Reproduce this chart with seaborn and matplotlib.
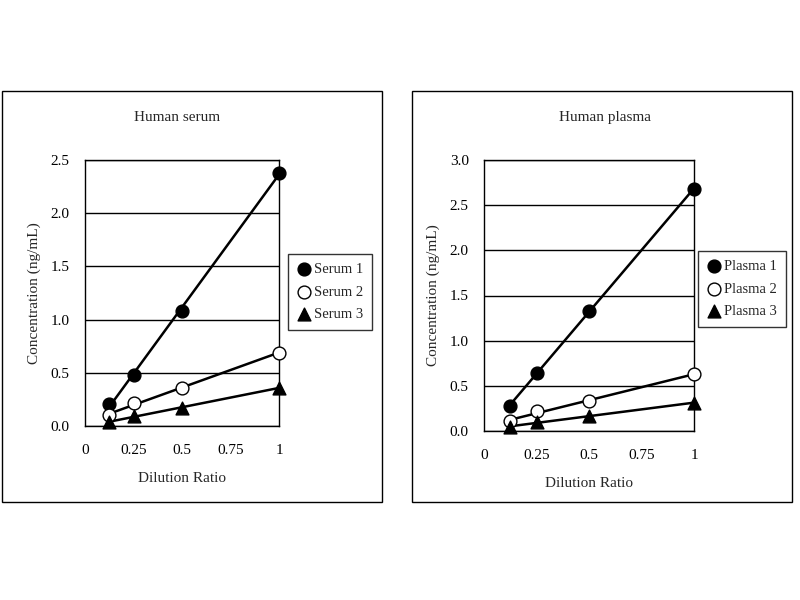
import numpy as np
import matplotlib
matplotlib.use("Agg")
import matplotlib.pyplot as plt
import seaborn as sns
from matplotlib.patches import Rectangle

# -------------------------------------------------------------------
# Data
# -------------------------------------------------------------------
dilution = [0.125, 0.25, 0.5, 1.0]

serum_labels = ["Serum 1", "Serum 2", "Serum 3"]
serum_1 = [0.21, 0.48, 1.08, 2.38]
serum_2 = [0.10, 0.22, 0.355, 0.69]
serum_3 = [0.04, 0.09, 0.17, 0.36]

plasma_labels = ["Plasma 1", "Plasma 2", "Plasma 3"]
plasma_1 = [0.28, 0.64, 1.33, 2.68]
plasma_2 = [0.11, 0.22, 0.33, 0.63]
plasma_3 = [0.04, 0.10, 0.17, 0.31]

x_ticks = [0, 0.25, 0.5, 0.75, 1]
x_ticklabels = ["0", "0.25", "0.5", "0.75", "1"]

sns.set_style("white")
plt.rcParams["font.family"] = ["Liberation Serif", "DejaVu Serif"]
plt.rcParams["font.size"] = 11

# marker styles: filled circle, open circle, filled triangle
styles = [
    dict(marker="o", color="black", edgecolor="black"),
    dict(marker="o", color="white", edgecolor="black"),
    dict(marker="^", color="black", edgecolor="black"),
]

fig = plt.figure(figsize=(8, 6), dpi=100)

# panel frames
fig.patches.append(Rectangle((2 / 800, 1 - 502 / 600), 380 / 800, 411 / 600,
                             transform=fig.transFigure, fill=False,
                             edgecolor="black", linewidth=1))
fig.patches.append(Rectangle((412 / 800, 1 - 502 / 600), 380 / 800, 411 / 600,
                             transform=fig.transFigure, fill=False,
                             edgecolor="black", linewidth=1))


def draw_panel(rect, series, labels, ymax, title, title_x, legend_box):
    ax = fig.add_axes(rect)
    for ys, lab, st in zip(series, labels, styles):
        sns.regplot(x=dilution, y=ys, ax=ax, scatter=False, ci=None,
                    truncate=True, color="black",
                    line_kws=dict(linewidth=1.8, zorder=2))
        sns.scatterplot(x=dilution, y=ys, ax=ax, s=85, linewidth=1,
                        label=lab, clip_on=False, zorder=3, **st)
    ax.set_xlim(0, 1)
    ax.set_ylim(0, ymax)
    ax.set_yticks(np.arange(0, ymax + 0.01, 0.5))
    ax.set_yticklabels([f"{v:.1f}" for v in np.arange(0, ymax + 0.01, 0.5)])
    ax.set_xticks(x_ticks)
    ax.set_xticklabels(x_ticklabels)
    ax.yaxis.grid(True, color="black", linewidth=1)
    ax.set_axisbelow(True)
    for sp in ax.spines.values():
        sp.set_color("black")
        sp.set_linewidth(1)
    ax.tick_params(axis="x", direction="in", length=4, width=1, pad=13,
                   colors="black", labelsize=11)
    ax.tick_params(axis="y", length=0, pad=11, colors="black", labelsize=11)
    ax.set_xlabel("Dilution Ratio", labelpad=11, fontsize=11)
    ax.set_ylabel("Concentration (ng/mL)", labelpad=7, fontsize=11)
    fig.text(title_x, 1 - 117 / 600, title, ha="center", va="center",
             fontsize=11)
    leg = ax.legend(loc="center", bbox_to_anchor=legend_box,
                    bbox_transform=fig.transFigure, frameon=True,
                    fancybox=False, handletextpad=0.2, labelspacing=0.65,
                    borderpad=0.6, handlelength=1.0, fontsize=10.5)
    leg.get_frame().set_edgecolor("black")
    leg.get_frame().set_linewidth(1)
    return ax


draw_panel([85 / 800, 1 - 426 / 600, 194 / 800, 266 / 600],
           [serum_1, serum_2, serum_3], serum_labels, 2.5,
           "Human serum", 177 / 800, (330 / 800, 1 - 292 / 600))
draw_panel([484 / 800, 1 - 431 / 600, 210 / 800, 271 / 600],
           [plasma_1, plasma_2, plasma_3], plasma_labels, 3.0,
           "Human plasma", 605 / 800, (742 / 800, 1 - 289 / 600))

fig.savefig("out.png", dpi=100)
